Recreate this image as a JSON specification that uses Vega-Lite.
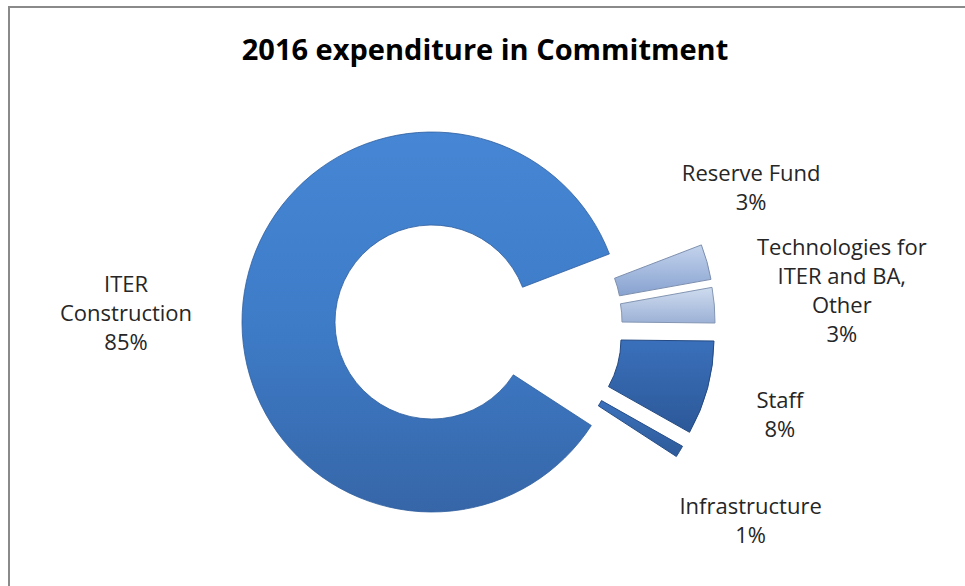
{
  "$schema": "https://vega.github.io/schema/vega-lite/v6.json",
  "width": 970,
  "height": 600,
  "autosize": {"type": "none"},
  "padding": {"left": 9, "top": 7, "right": 0, "bottom": 0},
  "background": "white",
  "view": {"stroke": "#8a8a8a", "strokeWidth": 2, "fill": "white"},
  "title": {
    "text": "2016 expenditure in Commitment",
    "font": "Open Sans",
    "fontSize": 29,
    "fontWeight": "bold",
    "color": "#000000",
    "anchor": "middle",
    "frame": "group",
    "orient": "top",
    "baseline": "alphabetic",
    "offset": -82,
    "dx": -9
  },
  "data": {
    "values": [
      {"category": "ITER Construction", "value": 85, "label": "ITER\nConstruction\n85%"},
      {"category": "Reserve Fund", "value": 3, "label": "Reserve  Fund\n3%"},
      {"category": "Technologies for ITER and BA, Other", "value": 3, "label": "Technologies for\nITER and BA,\nOther\n3%"},
      {"category": "Staff", "value": 8, "label": "Staff\n8%"},
      {"category": "Infrastructure", "value": 1, "label": "Infrastructure\n1%"}
    ]
  },
  "transform": [
    {"stack": "value", "groupby": [], "as": ["start", "end"]},
    {"calculate": "(datum.start + datum.end) / 2", "as": "mid"}
  ],
  "layer": [
    {
      "transform": [{"filter": "datum.category === 'ITER Construction'"}],
      "mark": {
        "type": "arc", "radius": 190, "radius2": 97, "xOffset": -62, "yOffset": 15,
        "stroke": "#2f5e9e", "strokeWidth": 0.8,
        "color": {"gradient": "linear", "x1": 0, "y1": 0, "x2": 0, "y2": 1,
          "stops": [{"offset": 0, "color": "#4686d4"}, {"offset": 0.5, "color": "#3e7cc8"}, {"offset": 1, "color": "#3666a8"}]}
      },
      "encoding": {
        "theta": {"field": "start", "type": "quantitative", "scale": {"domain": [0, 100], "range": [2.1468, 8.43]}},
        "theta2": {"field": "end"}
      }
    },
    {
      "transform": [{"filter": "datum.category === 'Reserve Fund'"}],
      "mark": {
        "type": "arc", "radius": 190, "radius2": 97, "xOffset": 30, "yOffset": 6,
        "stroke": "#7d8fae", "strokeWidth": 1,
        "color": {"gradient": "linear", "x1": 0, "y1": 0, "x2": 0, "y2": 1,
          "stops": [{"offset": 0, "color": "#c3d3ec"}, {"offset": 1, "color": "#87a2d0"}]}
      },
      "encoding": {
        "theta": {"field": "start", "type": "quantitative"},
        "theta2": {"field": "end"}
      }
    },
    {
      "transform": [{"filter": "datum.category === 'Technologies for ITER and BA, Other'"}],
      "mark": {
        "type": "arc", "radius": 190, "radius2": 97, "xOffset": 31, "yOffset": 14,
        "stroke": "#8496b3", "strokeWidth": 1,
        "color": {"gradient": "linear", "x1": 0, "y1": 0, "x2": 0, "y2": 1,
          "stops": [{"offset": 0, "color": "#cfdcef"}, {"offset": 1, "color": "#9cb1d6"}]}
      },
      "encoding": {
        "theta": {"field": "start", "type": "quantitative"},
        "theta2": {"field": "end"}
      }
    },
    {
      "transform": [{"filter": "datum.category === 'Staff'"}],
      "mark": {
        "type": "arc", "radius": 190, "radius2": 97, "xOffset": 30, "yOffset": 32,
        "stroke": "#244a82", "strokeWidth": 1,
        "color": {"gradient": "linear", "x1": 0, "y1": 0, "x2": 0, "y2": 1,
          "stops": [{"offset": 0, "color": "#3a70bb"}, {"offset": 1, "color": "#2c5898"}]}
      },
      "encoding": {
        "theta": {"field": "start", "type": "quantitative"},
        "theta2": {"field": "end"}
      }
    },
    {
      "transform": [{"filter": "datum.category === 'Infrastructure'"}],
      "mark": {
        "type": "arc", "radius": 190, "radius2": 97, "xOffset": 23, "yOffset": 46,
        "stroke": "#264d88", "strokeWidth": 1,
        "color": {"gradient": "linear", "x1": 0, "y1": 0, "x2": 0, "y2": 1,
          "stops": [{"offset": 0, "color": "#3c72bc"}, {"offset": 1, "color": "#2d5a99"}]}
      },
      "encoding": {
        "theta": {"field": "start", "type": "quantitative"},
        "theta2": {"field": "end"}
      }
    },
    {
      "transform": [{"filter": "datum.category === 'ITER Construction'"}],
      "mark": {"type": "text", "radius": 368, "dx": -2, "dy": 16, "font": "Open Sans", "fontSize": 22, "color": "#262626", "lineBreak": "\n", "lineHeight": 29, "align": "center", "baseline": "middle"},
      "encoding": {"theta": {"field": "mid", "type": "quantitative"}, "text": {"field": "label"}}
    },
    {
      "transform": [{"filter": "datum.category === 'Reserve Fund'"}],
      "mark": {"type": "text", "radius": 267, "dx": 0, "dy": -61, "font": "Open Sans", "fontSize": 22, "color": "#262626", "lineBreak": "\n", "lineHeight": 29, "align": "center", "baseline": "middle"},
      "encoding": {"theta": {"field": "mid", "type": "quantitative"}, "text": {"field": "label"}}
    },
    {
      "transform": [{"filter": "datum.category === 'Technologies for ITER and BA, Other'"}],
      "mark": {"type": "text", "radius": 349, "dx": 0, "dy": -30, "font": "Open Sans", "fontSize": 22, "color": "#262626", "lineBreak": "\n", "lineHeight": 29, "align": "center", "baseline": "middle"},
      "encoding": {"theta": {"field": "mid", "type": "quantitative"}, "text": {"field": "label"}}
    },
    {
      "transform": [{"filter": "datum.category === 'Staff'"}],
      "mark": {"type": "text", "radius": 296, "dx": 0, "dy": 17, "font": "Open Sans", "fontSize": 22, "color": "#262626", "lineBreak": "\n", "lineHeight": 29, "align": "center", "baseline": "middle"},
      "encoding": {"theta": {"field": "mid", "type": "quantitative"}, "text": {"field": "label"}}
    },
    {
      "transform": [{"filter": "datum.category === 'Infrastructure'"}],
      "mark": {"type": "text", "radius": 300, "dx": 0, "dy": 45, "font": "Open Sans", "fontSize": 22, "color": "#262626", "lineBreak": "\n", "lineHeight": 29, "align": "center", "baseline": "middle"},
      "encoding": {"theta": {"field": "mid", "type": "quantitative"}, "text": {"field": "label"}}
    }
  ]
}
